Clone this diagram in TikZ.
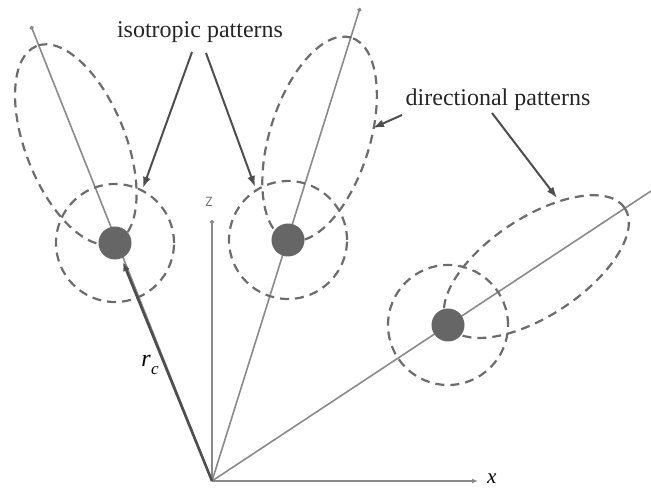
\documentclass[tikz,border=0pt]{standalone}
\usepackage{fontspec}
\setmainfont{Liberation Serif}
\newfontfamily\zfont{Open Sans}
\usetikzlibrary{arrows.meta}
\definecolor{raygray}{HTML}{8A8A8A}
\definecolor{dashgray}{HTML}{6C6C6C}
\definecolor{dotgray}{HTML}{666666}
\definecolor{arrowgray}{HTML}{4E4E4E}
\begin{document}
\begin{tikzpicture}[x=1pt,y=1pt,
  ray/.style={draw=raygray,line width=1.6pt},
  axis/.style={draw=raygray,line width=1.8pt,-{Latex[length=6pt,width=5pt]}},
  raytip/.style={-{Circle[length=4pt]}},
  pattern/.style={draw=dashgray,line width=2.2pt,dash pattern=on 9pt off 6pt},
  dot/.style={fill=dotgray},
  pointer/.style={draw=arrowgray,line width=2pt,-{Latex[length=11pt,width=8pt]}},
  rcline/.style={draw=arrowgray,line width=2.6pt,-{Latex[length=9pt,width=7pt]}},
  lbl/.style={font=\fontsize{24}{28}\selectfont,text=black!85,inner sep=0pt}]
\useasboundingbox (0,0) rectangle (651,490);

% origin and axis ends
\coordinate (O) at (212,9);
\coordinate (Xend) at (478,9);
\coordinate (Zend) at (212,270);
% ray ends
\coordinate (R1end) at (31,464);
\coordinate (R2end) at (360,482);
\coordinate (R3end) at (651,299);
% element positions
\coordinate (D1) at (115,247);
\coordinate (D2) at (288,250);
\coordinate (D3) at (448,165);

% rays
\draw[ray,raytip] (O) -- (R1end);
\draw[ray,raytip] (O) -- (R2end);
\draw[ray] (O) -- (R3end);

% axes
\draw[axis] (O) -- (Xend);
\draw[axis,-{Circle[length=4pt]}] (O) -- (Zend);
\node[anchor=west,inner sep=0pt,font=\fontsize{21}{24}\selectfont\itshape] (xl) at (487,11) {x};
\node[inner sep=0pt,text=raygray!80!black,font=\zfont\fontsize{13}{14}\selectfont] (zl) at (209,288) {Z};

% isotropic patterns (circles)
\draw[pattern] (D1) circle[radius=59];
\draw[pattern] (D2) circle[radius=59];
\draw[pattern] (D3) circle[radius=60];

% directional patterns (lobes)
\draw[pattern,rotate around={111.7:(75.8,345.5)}] (75.8,345.5) ellipse[x radius=106,y radius=50];
\draw[pattern,rotate around={72.6:(319.6,351.2)}] (319.6,351.2) ellipse[x radius=106,y radius=50];
\draw[pattern,rotate around={33.5:(536.4,223.4)}] (536.4,223.4) ellipse[x radius=106,y radius=49];

% dots
\fill[dot] (D1) circle[radius=16.5];
\fill[dot] (D2) circle[radius=16.5];
\fill[dot] (D3) circle[radius=16.5];

% position vector r_c
\coordinate (rcTip) at (123,228);
\draw[rcline] (O) -- (rcTip);
\node[inner sep=0pt,font=\fontsize{24}{28}\selectfont\itshape] (rc) at (150,125) {r\kern0.5pt\raisebox{-0.3em}{\fontsize{17}{18}\selectfont c}};

% labels
\node[lbl] (iso) at (200,458) {isotropic patterns};
\node[lbl] (dir) at (498,390) {directional patterns};

\coordinate (iso1s) at (192,438);
\coordinate (iso1t) at (143,302);
\coordinate (iso2s) at (206,437);
\coordinate (iso2t) at (255,303);
\coordinate (dir1s) at (402,375);
\coordinate (dir1t) at (373,362);
\coordinate (dir2s) at (492,377);
\coordinate (dir2t) at (557,292);

\draw[pointer] (iso1s) -- (iso1t);
\draw[pointer] (iso2s) -- (iso2t);
\draw[pointer] (dir1s) -- (dir1t);
\draw[pointer] (dir2s) -- (dir2t);
\end{tikzpicture}
\end{document}
